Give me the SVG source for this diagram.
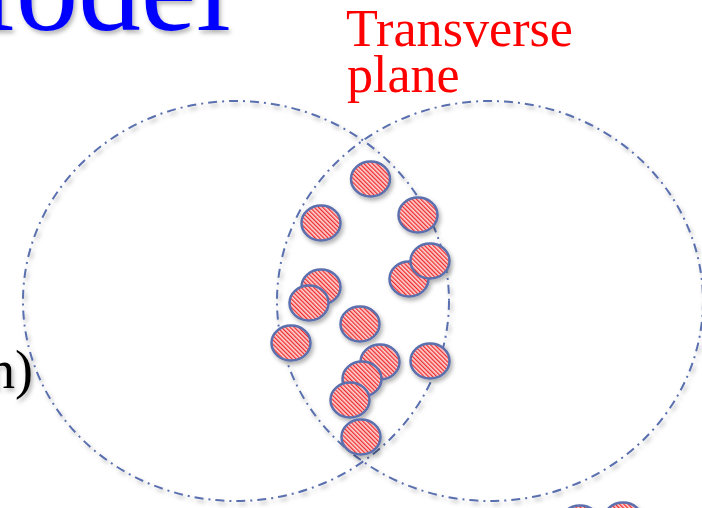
<svg xmlns="http://www.w3.org/2000/svg" width="702" height="508" viewBox="0 0 702 508">
  <defs>
    <filter id="sh" x="-20%" y="-20%" width="140%" height="140%">
      <feDropShadow dx="2" dy="3" stdDeviation="2" flood-color="#000" flood-opacity="0.3"/>
    </filter>
    <pattern id="hatch" patternUnits="userSpaceOnUse" width="3" height="3" patternTransform="rotate(-45)">
      <rect width="3" height="3" fill="#ffd6d6"/>
      <rect width="1.3" height="3" fill="#ee2a2a"/>
    </pattern>
  </defs>
  <style>
    .ring { fill: none; stroke: #5a6fae; stroke-width: 2; stroke-dasharray: 9 5 2 5; }
    .nuc { fill: url(#hatch); stroke: #5b6fae; stroke-width: 2.5; }
    .title { font-family: "Liberation Serif", serif; font-size: 125px; fill: #0000ff; }
    .label { font-family: "Liberation Serif", serif; font-size: 52px; fill: #ff0000; }
    .side { font-family: "Liberation Serif", serif; font-size: 54px; fill: #000; }
  </style>
  <rect width="702" height="508" fill="#fff"/>

  <g id="title" filter="url(#sh)">
    <text class="title" x="231" y="30" text-anchor="end">Model</text>
  </g>
  <g id="side-label" filter="url(#sh)">
    <text class="side" x="33" y="388" text-anchor="end">n)</text>
  </g>
  <g id="transverse-label">
    <text class="label" x="346" y="46" textLength="227" lengthAdjust="spacingAndGlyphs">Transverse</text>
    <text class="label" x="347" y="92">plane</text>
  </g>

  <g id="connectors" filter="url(#sh)">
    <ellipse id="nucleus-left" class="ring" cx="236" cy="301" rx="213" ry="200"/>
    <ellipse id="nucleus-right" class="ring" cx="490" cy="301" rx="213" ry="200"/>
  </g>

  <g id="nucleons" filter="url(#sh)">
    <g id="n1"><ellipse class="nuc" cx="370.5" cy="179" rx="19.5" ry="17.5"/></g>
    <g id="n2"><ellipse class="nuc" cx="321" cy="223" rx="19.5" ry="17.5"/></g>
    <g id="n3"><ellipse class="nuc" cx="418" cy="215" rx="19.5" ry="17.5"/></g>
    <g id="n5"><ellipse class="nuc" cx="409" cy="279" rx="19.5" ry="17.5"/></g>
    <g id="n4"><ellipse class="nuc" cx="430" cy="261" rx="19.5" ry="17.5"/></g>
    <g id="n6"><ellipse class="nuc" cx="321" cy="287" rx="19.5" ry="17.5"/></g>
    <g id="n7"><ellipse class="nuc" cx="309" cy="303" rx="19.5" ry="17.5"/></g>
    <g id="n8"><ellipse class="nuc" cx="360" cy="324" rx="19.5" ry="17.5"/></g>
    <g id="n9"><ellipse class="nuc" cx="291" cy="343" rx="19.5" ry="17.5"/></g>
    <g id="n15"><ellipse class="nuc" cx="430" cy="361" rx="19.5" ry="17.5"/></g>
    <g id="n11"><ellipse class="nuc" cx="380" cy="362" rx="19.5" ry="17.5"/></g>
    <g id="n12"><ellipse class="nuc" cx="362" cy="379" rx="19.5" ry="17.5"/></g>
    <g id="n13"><ellipse class="nuc" cx="350" cy="400" rx="19.5" ry="17.5"/></g>
    <g id="n14"><ellipse class="nuc" cx="361" cy="437" rx="19.5" ry="17.5"/></g>
    <g id="n16"><ellipse class="nuc" cx="580" cy="523" rx="19.5" ry="17.5"/></g>
    <g id="n17"><ellipse class="nuc" cx="623" cy="520" rx="19.5" ry="17.5"/></g>
  </g>
</svg>
